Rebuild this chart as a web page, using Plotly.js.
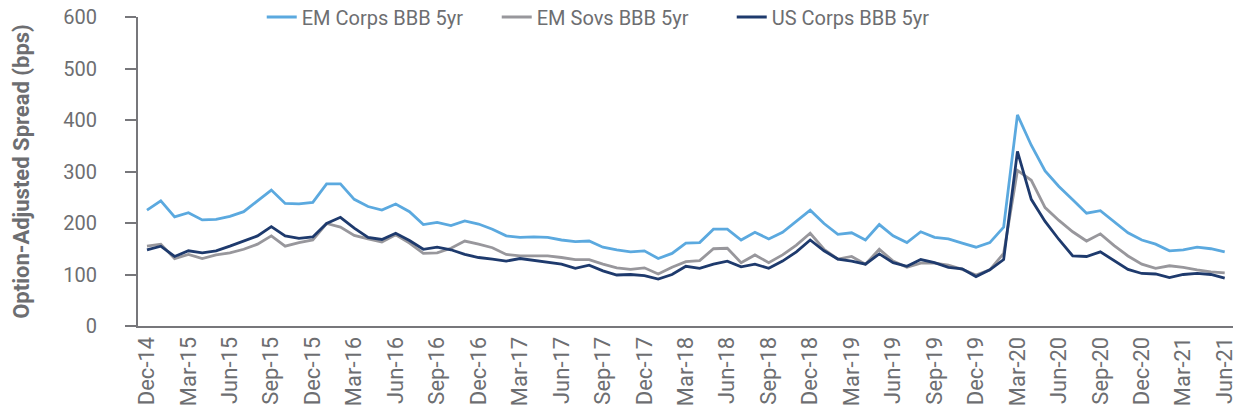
<!DOCTYPE html>
<html><head><meta charset="utf-8">
<script src="https://cdn.plot.ly/plotly-3.0.1.min.js"></script>
<style>html,body{margin:0;padding:0;background:#fff}#chart{width:1244px;height:419px}</style>
</head><body><div id="chart"></div>
<script>
const months = ["Dec-14","Jan-15","Feb-15","Mar-15","Apr-15","May-15","Jun-15","Jul-15","Aug-15","Sep-15","Oct-15","Nov-15",
"Dec-15","Jan-16","Feb-16","Mar-16","Apr-16","May-16","Jun-16","Jul-16","Aug-16","Sep-16","Oct-16","Nov-16",
"Dec-16","Jan-17","Feb-17","Mar-17","Apr-17","May-17","Jun-17","Jul-17","Aug-17","Sep-17","Oct-17","Nov-17",
"Dec-17","Jan-18","Feb-18","Mar-18","Apr-18","May-18","Jun-18","Jul-18","Aug-18","Sep-18","Oct-18","Nov-18",
"Dec-18","Jan-19","Feb-19","Mar-19","Apr-19","May-19","Jun-19","Jul-19","Aug-19","Sep-19","Oct-19","Nov-19",
"Dec-19","Jan-20","Feb-20","Mar-20","Apr-20","May-20","Jun-20","Jul-20","Aug-20","Sep-20","Oct-20","Nov-20",
"Dec-20","Jan-21","Feb-21","Mar-21","Apr-21","May-21","Jun-21"];

const tickLabels = ["Dec-14","Mar-15","Jun-15","Sep-15","Dec-15","Mar-16","Jun-16","Sep-16","Dec-16","Mar-17","Jun-17","Sep-17",
"Dec-17","Mar-18","Jun-18","Sep-18","Dec-18","Mar-19","Jun-19","Sep-19","Dec-19","Mar-20","Jun-20","Sep-20","Dec-20","Mar-21","Jun-21"];

const emCorps = [225,243,212,220,206,207,213,222,243,264,238,237,
240,276,276,246,232,225,237,222,197,201,195,204,
198,188,175,172,173,172,167,164,165,153,148,144,
146,131,141,161,162,188,188,167,182,169,182,203,
225,199,178,181,167,197,175,162,183,172,169,161,
153,162,192,410,351,301,271,245,219,224,203,181,
167,159,146,148,153,150,144];

const emSovs = [155,159,131,139,131,138,142,149,159,175,155,162,
167,199,192,176,169,163,177,161,141,142,151,165,
159,152,139,136,136,136,133,129,129,120,113,110,
113,101,114,125,127,150,151,123,138,123,138,157,
180,149,130,135,120,149,126,114,122,122,118,110,
99,109,141,302,283,230,205,183,165,179,156,136,
120,112,117,114,109,105,103];

const usCorps = [148,155,135,146,142,146,155,165,175,193,175,170,
173,199,211,190,172,168,180,166,149,153,148,139,
133,130,126,131,127,123,120,112,118,107,99,100,
98,91,100,116,112,120,126,115,120,112,126,144,
167,146,130,126,120,140,123,116,129,123,114,111,
96,109,129,339,246,203,168,136,135,144,127,110,
102,101,94,100,102,100,93];

const txt = '#6d6e71';
const traces = [
  {name:'EM Corps BBB 5yr', y:emCorps, color:'#5ba9df'},
  {name:'EM Sovs BBB 5yr', y:emSovs, color:'#98979c'},
  {name:'US Corps BBB 5yr', y:usCorps, color:'#1e3a6d'}
].map(s => ({
  type:'scatter', mode:'lines', x:months, y:s.y, name:s.name,
  line:{color:s.color, width:2.8}
}));

const layout = {
  width:1244, height:419,
  margin:{l:138, r:11, t:17, b:93, autoexpand:false},
  paper_bgcolor:'#fff', plot_bgcolor:'#fff',
  font:{family:'Roboto, "Open Sans", sans-serif', color:txt, size:20},
  showlegend:true,
  legend:{orientation:'h', x:0.113, xanchor:'left', y:1.0, yanchor:'middle',
    font:{size:20, color:txt}, bgcolor:'rgba(0,0,0,0)', entrywidth:190, entrywidthmode:'pixels'},
  xaxis:{type:'category', categoryorder:'array', categoryarray:months,
    range:[-0.65,78.6], tickmode:'array', tickvals:tickLabels, ticktext:tickLabels,
    tickangle:-90, ticks:'', showgrid:false, zeroline:false, automargin:false,
    showline:true, linecolor:'#77777b', linewidth:2,
    tickfont:{size:22, color:txt}},
  yaxis:{range:[0,600], dtick:100, ticks:'outside', ticklen:11, tickwidth:2, tickcolor:'#77777b',
    showline:true, linecolor:'#77777b', linewidth:2, showgrid:false, zeroline:false, automargin:false,
    tickfont:{size:20, color:txt}, ticklabelstandoff:24,
    title:{text:'Option-Adjusted Spread (bps)', font:{size:22, color:txt, weight:'bold'}, standoff:28}}
};

Plotly.newPlot('chart', traces, layout, {displayModeBar:false, staticPlot:true});
</script></body></html>
